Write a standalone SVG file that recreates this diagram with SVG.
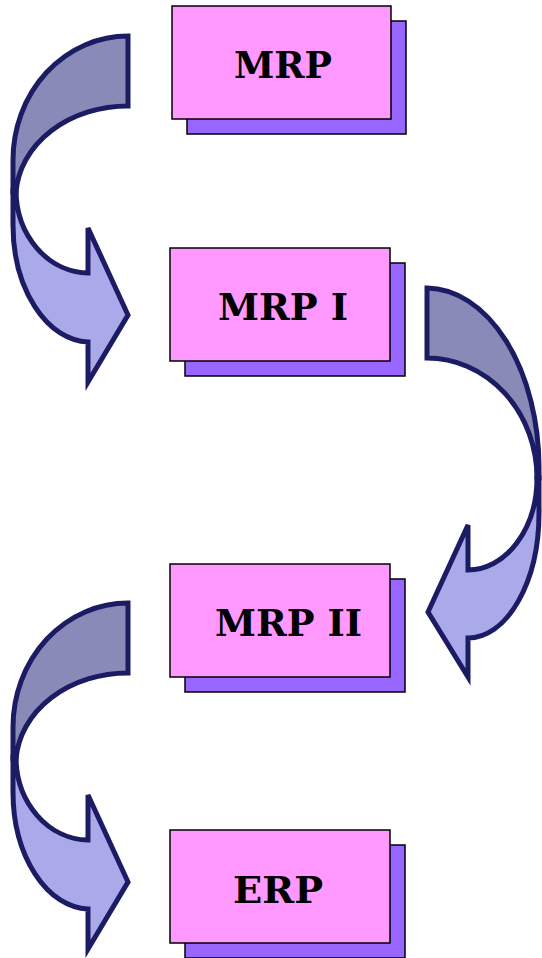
<svg xmlns="http://www.w3.org/2000/svg" width="542" height="958" viewBox="0 0 542 958">
<style>
.shadow{fill:#9966ff;stroke:#000;stroke-width:1.5}
.front{fill:#ff99ff;stroke:#000;stroke-width:1.5}
.lbl{font-family:"DejaVu Serif","Liberation Serif",serif;font-weight:bold;font-size:38px;fill:#000}
.dark{fill:#8a8ab8;stroke:#1c1c64;stroke-width:5;stroke-linejoin:miter}
.light{fill:#aaaaea;stroke:#1c1c64;stroke-width:5;stroke-linejoin:miter}
</style>
<rect width="542" height="958" fill="#fff"/>
<g id="connectors">
<g id="arrow1">
<path class="dark" d="M128,36 L128,106 A112,92 0 0 0 16,192 L13,192 L13,160 A115,124 0 0 1 128,36 Z"/>
<path class="light" d="M13,190 L13,225 A77,117 0 0 0 88,342 L88,382 L128,315 L88,228 L88,273 A73,83 0 0 1 16,190 Z"/>
</g>
<g id="arrow2">
<path class="dark" d="M427,288 A113,180 0 0 1 539,467 L539,478 L537,478 A110,120 0 0 0 427,358 Z"/>
<path class="light" d="M539,478 L539,513 A71,125 0 0 1 468,638 L468,677 L428,612 L468,525 L468,570 A69,92 0 0 0 537,478 Z"/>
</g>
<g id="arrow3" transform="translate(0,567)">
<path class="dark" d="M128,36 L128,106 A112,92 0 0 0 16,192 L13,192 L13,160 A115,124 0 0 1 128,36 Z"/>
<path class="light" d="M13,190 L13,225 A77,117 0 0 0 88,342 L88,382 L128,315 L88,228 L88,273 A73,83 0 0 1 16,190 Z"/>
</g>
</g>
<g id="node-mrp">
<rect class="shadow" x="187" y="21" width="219" height="113"/>
<rect class="front" x="172" y="6" width="219" height="113"/>
<text class="lbl" x="234" y="78" textLength="98" lengthAdjust="spacingAndGlyphs">MRP</text>
</g>
<g id="node-mrp1">
<rect class="shadow" x="185" y="263" width="220" height="113"/>
<rect class="front" x="170" y="248" width="220" height="113"/>
<text class="lbl" x="218" y="320" textLength="130" lengthAdjust="spacingAndGlyphs">MRP I</text>
</g>
<g id="node-mrp2">
<rect class="shadow" x="185" y="579" width="220" height="113"/>
<rect class="front" x="170" y="564" width="220" height="113"/>
<text class="lbl" x="215" y="636" textLength="147" lengthAdjust="spacingAndGlyphs">MRP II</text>
</g>
<g id="node-erp">
<rect class="shadow" x="185" y="845" width="220" height="113"/>
<rect class="front" x="170" y="830" width="220" height="113"/>
<text class="lbl" x="233" y="903" textLength="90" lengthAdjust="spacingAndGlyphs">ERP</text>
</g>
</svg>
